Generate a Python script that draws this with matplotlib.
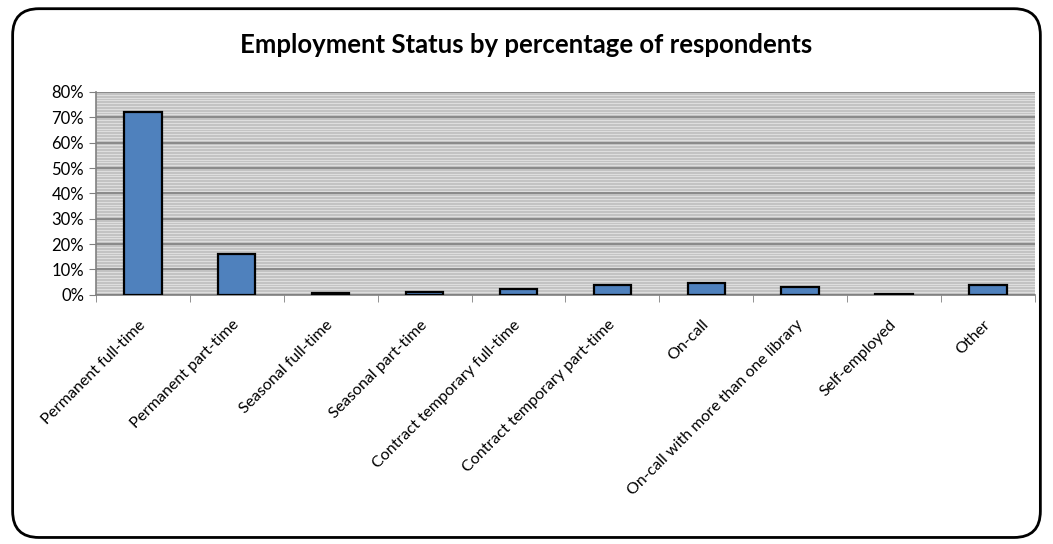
import matplotlib.pyplot as plt
import numpy as np
from matplotlib.patches import FancyBboxPatch
from matplotlib.collections import LineCollection
from matplotlib.ticker import FuncFormatter, MultipleLocator

categories = ['Permanent full-time', 'Permanent part-time', 'Seasonal full-time',
              'Seasonal part-time', 'Contract temporary full-time',
              'Contract temporary part-time', 'On-call',
              'On-call with more than one library', 'Self-employed', 'Other']
percentages = [72.0, 16.0, 0.7, 1.2, 2.4, 3.9, 4.8, 2.9, 0.5, 3.9]

plt.rcParams['font.family'] = ['Lato', 'DejaVu Sans']

fig = plt.figure(figsize=(10.53, 5.44), dpi=100)
fig.patch.set_facecolor('white')

# rounded chart border
border = FancyBboxPatch((0.012, 0.012), 0.976, 0.972, transform=fig.transFigure,
                        boxstyle='round,pad=0,rounding_size=0.025',
                        facecolor='none', edgecolor='black', linewidth=2,
                        mutation_aspect=1053 / 544, zorder=10)
fig.patches.append(border)

ax = fig.add_axes([0.091, 0.458, 0.892, 0.373])
ax.set_facecolor('#c2c2c2')

# striped pattern fill in the plot area (pure decoration, axes coords)
ys = [i / 72 for i in range(72) if i % 9 != 0]
segs = [[(0, y), (1, y)] for y in ys]
ax.add_collection(LineCollection(segs, colors='#dedede', linewidths=0.8,
                                 transform=ax.transAxes, zorder=0.5))

x = np.arange(len(categories))
ax.bar(x, percentages, width=0.4, color='#4f81bd', edgecolor='black',
       linewidth=1.6, zorder=3)

ax.set_ylim(0, 80)
ax.set_xlim(-0.5, len(categories) - 0.5)
ax.yaxis.set_major_locator(MultipleLocator(10))
ax.yaxis.set_major_formatter(FuncFormatter(lambda v, p: f'{int(v)}%'))
ax.grid(False, axis='x', which='both')
ax.grid(True, axis='y', which='major', color='#808080', linewidth=1.2, zorder=1)
ax.set_axisbelow(True)

# labels centred under bars, tick marks between categories
ax.set_xticks(x)
ax.set_xticklabels(categories, rotation=45, ha='right', va='center',
                   rotation_mode='anchor', fontsize=11.5)
ax.tick_params(axis='x', length=0, pad=20)
ax.set_xticks(np.arange(-0.5, len(categories)), minor=True)
ax.tick_params(axis='x', which='minor', length=5, color='#808080')
ax.tick_params(axis='y', length=5, color='#808080', labelsize=12)

for side in ['top', 'right']:
    ax.spines[side].set_visible(False)
for side in ['left', 'bottom']:
    ax.spines[side].set_color('#808080')
    ax.spines[side].set_linewidth(1.2)

fig.text(0.5, 0.917, 'Employment Status by percentage of respondents',
         ha='center', va='center', fontsize=18.5, fontweight='bold')

fig.savefig('out.png', dpi=100)
